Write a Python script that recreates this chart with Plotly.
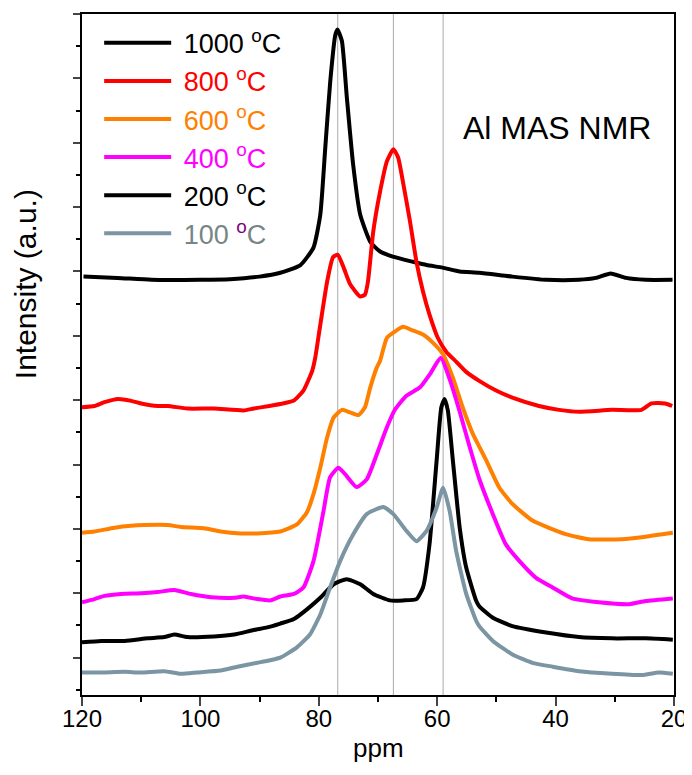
import plotly.graph_objects as go

# ---------------- data (ppm, intensity in arbitrary units) ----------------
ppm_1000 = [119.75, 114, 108.3, 100, 95, 90, 86.5, 83.1, 80.9, 79.75, 78.9, 78.07, 77.2, 76.84, 76.1,
            75.26, 74.2, 73.0, 71.3, 69.65, 67.5, 64.1, 61.8, 59.1, 56.2, 52.9, 47.3, 41.6, 36.1,
            33.2, 30.7, 28.1, 24.8, 20.25]
int_1000 = [5.92, 5.90, 5.87, 5.87, 5.88, 5.92, 5.98, 6.10, 6.37, 6.88, 7.93, 8.95, 9.68, 9.76, 9.58,
            8.70, 7.66, 6.88, 6.46, 6.31, 6.23, 6.15, 6.10, 6.06, 6.00, 5.98, 5.92, 5.87, 5.87,
            5.90, 5.97, 5.90, 5.87, 5.87]

ppm_800 = [120, 117.9, 116.2, 113.9, 111.7, 110, 107.2, 105.5, 102.2, 97.7, 92.7, 91, 86.5, 84.3,
           82.6, 81.1, 80.6, 79.75, 78.6, 77.6, 76.8, 75.8, 74.7, 73.0, 72.2, 71.7, 70.8, 69.65,
           68.5, 67.4, 66.6, 65.8, 64.6, 63.5, 62.4, 61.3, 59.9, 58.45, 56.8, 55.1, 52.9, 50.05,
           47.3, 42.8, 39.4, 36.05, 30.5, 25.5, 23.8, 21.5, 20.3]
int_800 = [3.89, 3.91, 3.97, 4.02, 3.99, 3.95, 3.91, 3.91, 3.87, 3.87, 3.84, 3.87, 3.94, 3.99,
           4.15, 4.46, 4.66, 5.17, 5.84, 6.22, 6.26, 6.06, 5.80, 5.61, 5.64, 5.84, 6.62, 7.24,
           7.71, 7.90, 7.77, 7.40, 6.78, 6.15, 5.69, 5.33, 4.97, 4.75, 4.60, 4.44, 4.30, 4.15,
           4.04, 3.91, 3.85, 3.82, 3.85, 3.85, 3.95, 3.95, 3.91]

ppm_600 = [120, 117.9, 114.5, 111.7, 109.5, 105.5, 103.3, 99.4, 96.6, 93.2, 90.4, 86.5, 85.3, 83.7,
           82.0, 80.9, 79.75, 78.6, 77.5, 76.1, 74.7, 73.3, 72.2, 71.3, 70.2, 69.65, 68.5, 67.1,
           65.75, 64.3, 62.4, 60.7, 59.0, 57.35, 55.7, 54.0, 52.9, 51.7, 49.5, 47.3, 43.9, 38.3,
           34.4, 28.8, 24.8, 20.2]
int_600 = [1.94, 1.96, 2.02, 2.05, 2.06, 2.06, 2.03, 2.01, 1.96, 1.93, 1.93, 1.96, 2.00, 2.07,
           2.26, 2.54, 2.95, 3.42, 3.73, 3.85, 3.81, 3.77, 3.89, 4.20, 4.51, 4.61, 4.97, 5.07,
           5.14, 5.09, 5.02, 4.89, 4.71, 4.35, 3.89, 3.48, 3.28, 3.06, 2.64, 2.39, 2.13, 1.92,
           1.84, 1.84, 1.88, 1.94]

ppm_400 = [120, 117.9, 116.2, 113.4, 110, 107.2, 104.4, 101.6, 98.2, 94.3, 92.7, 90.4, 88.2, 86.5,
           84.2, 82.6, 80.9, 79.2, 78.1, 76.7, 75.55, 73.6, 71.9, 70.2, 68.5, 67.1, 65.2, 62.9,
           61.2, 59.4, 57.8, 56.1, 54.5, 52.9, 50.6, 48.4, 46.1, 43.3, 40.5, 37.2, 32.7, 27.6,
           24.8, 20.2]
int_400 = [0.86, 0.91, 0.96, 0.99, 1.00, 1.02, 1.05, 0.99, 0.94, 0.93, 0.95, 0.91, 0.89, 0.95,
           0.99, 1.09, 1.50, 2.28, 2.80, 2.95, 2.85, 2.65, 2.77, 3.16, 3.58, 3.86, 4.07, 4.20,
           4.41, 4.66, 4.30, 3.79, 3.27, 2.78, 2.23, 1.76, 1.50, 1.24, 1.09, 0.92, 0.86, 0.83,
           0.88, 0.92]

ppm_200 = [120, 116.7, 112.8, 108.9, 106.1, 104.4, 102.2, 97.7, 94.3, 91.0, 88.7, 86.5, 84.2, 82.0,
           79.75, 77.5, 75.3, 73.0, 70.8, 68.0, 65.75, 63.5, 62.4, 61.3, 60.1, 59.3, 58.75, 58.2,
           57.35, 56.2, 55.1, 53.4, 52.9, 50.6, 47.3, 41.6, 36.05, 30.5, 24.8, 20.2]
int_200 = [0.24, 0.26, 0.26, 0.30, 0.32, 0.36, 0.32, 0.33, 0.36, 0.43, 0.47, 0.53, 0.60, 0.75,
           0.93, 1.14, 1.22, 1.14, 0.99, 0.89, 0.89, 0.91, 1.09, 1.76, 3.06, 3.89, 4.02, 3.84,
           3.06, 2.02, 1.40, 0.88, 0.80, 0.62, 0.49, 0.39, 0.32, 0.30, 0.30, 0.28]

ppm_100 = [120, 116.7, 112.8, 110, 106.1, 103.3, 100.5, 96.6, 93.75, 90.4, 88.2, 86.5, 83.7, 81.5,
           79.75, 78.1, 76.4, 74.15, 71.9, 69.1, 67.4, 65.2, 63.5, 61.8, 60.1, 59.0, 57.9, 56.8,
           55.1, 53.4, 52.9, 50.6, 47.3, 43.9, 40.5, 36.05, 30.5, 25.4, 22.6, 20.2]
int_100 = [-0.23, -0.23, -0.22, -0.23, -0.21, -0.25, -0.23, -0.20, -0.14, -0.08, -0.04, 0.00, 0.16, 0.36,
           0.67, 1.09, 1.50, 1.92, 2.23, 2.34, 2.23, 1.97, 1.81, 1.97, 2.33, 2.64, 2.28, 1.66,
           0.99, 0.57, 0.49, 0.26, 0.05, -0.08, -0.14, -0.21, -0.25, -0.27, -0.23, -0.25]

reference_ppm = [76.8, 67.4, 59.0]
x_ticks = [120, 100, 80, 60, 40, 20]

# ---------------- styling ----------------
FONT = "Liberation Sans, Arial, sans-serif"
deg = "<sup>o</sup>"
sp = "\u00a0"

series = [
    (ppm_1000, int_1000, "#000000", f'{sp}<span style="color:#000000">1000 {deg}C</span>'),
    (ppm_800, int_800, "#FF0000", f'{sp}<span style="color:#FF0000">800 {deg}C</span>'),
    (ppm_600, int_600, "#FF8000", f'{sp}<span style="color:#FF8000">600 {deg}C</span>'),
    (ppm_400, int_400, "#FF00FF", f'{sp}<span style="color:#FF00FF">400 {deg}C</span>'),
    (ppm_200, int_200, "#000000", f'{sp}<span style="color:#000000">200 {deg}C</span>'),
    (ppm_100, int_100, "#7B95A3",
     f'{sp}<span style="color:#778585">100 </span><span style="color:#800080">{deg}</span><span style="color:#778585">C</span>'),
]

fig = go.Figure()
for xs, ys, col, name in series:
    fig.add_trace(go.Scatter(x=xs, y=ys, mode="lines", name=name,
                             line=dict(color=col, width=4, shape="spline", smoothing=0.5)))

for p in reference_ppm:
    fig.add_shape(type="line", xref="x", yref="paper", x0=p, x1=p, y0=0, y1=1,
                  line=dict(color="#aaaaaa", width=1), layer="below")

fig.add_annotation(text="Al MAS NMR", xref="paper", yref="paper",
                   x=0.803, y=0.833, showarrow=False, xanchor="center", yanchor="middle",
                   font=dict(family=FONT, size=32, color="#000000"))

fig.add_annotation(text="Intensity (a.u.)", xref="paper", yref="paper",
                   x=-0.096, y=0.6035, showarrow=False, xanchor="center", yanchor="middle",
                   textangle=-90, font=dict(family=FONT, size=30, color="#000000"))

fig.add_annotation(text="ppm", xref="paper", yref="paper",
                   x=0.5, y=-0.078, showarrow=False, xanchor="center", yanchor="middle",
                   font=dict(family=FONT, size=26, color="#000000"))

# page body adds an 8px margin, so the figure is 8px smaller on each axis
fig.update_layout(
    width=684, height=767,
    margin=dict(l=74, r=18, t=6, b=80, autoexpand=False),
    paper_bgcolor="white", plot_bgcolor="white",
    font=dict(family=FONT, color="black"),
    showlegend=True,
    legend=dict(x=0.029, y=0.993, xanchor="left", yanchor="top",
                bgcolor="rgba(0,0,0,0)", borderwidth=0,
                font=dict(family=FONT, size=27), itemwidth=67,
                traceorder="normal"),
    xaxis=dict(range=[120, 20], tickvals=x_ticks, ticks="outside", ticklen=9, tickwidth=2,
               showline=True, linewidth=2, linecolor="black", mirror=True,
               showgrid=False, zeroline=False, automargin=False,
               tickfont=dict(family=FONT, size=24), ticklabelstandoff=-8,
               minor=dict(dtick=10, ticks="outside", ticklen=5, tickwidth=2, tickcolor="black")),
    xaxis2=dict(range=[120, 20], overlaying="x", side="top", anchor="y", dtick=10, tick0=0,
                ticks="inside", ticklen=4, tickwidth=1.5, showticklabels=False,
                showline=False, showgrid=False, zeroline=False, automargin=False),
    yaxis=dict(range=[-0.58, 10.0], dtick=1, tick0=0, ticks="outside", ticklen=7, tickwidth=2,
               showticklabels=False,
               showline=True, linewidth=2, linecolor="black", mirror=True,
               showgrid=False, zeroline=False, automargin=False,
               minor=dict(dtick=0.5, ticks="outside", ticklen=4, tickwidth=2, tickcolor="black")),
)

fig.write_html("out.html")
